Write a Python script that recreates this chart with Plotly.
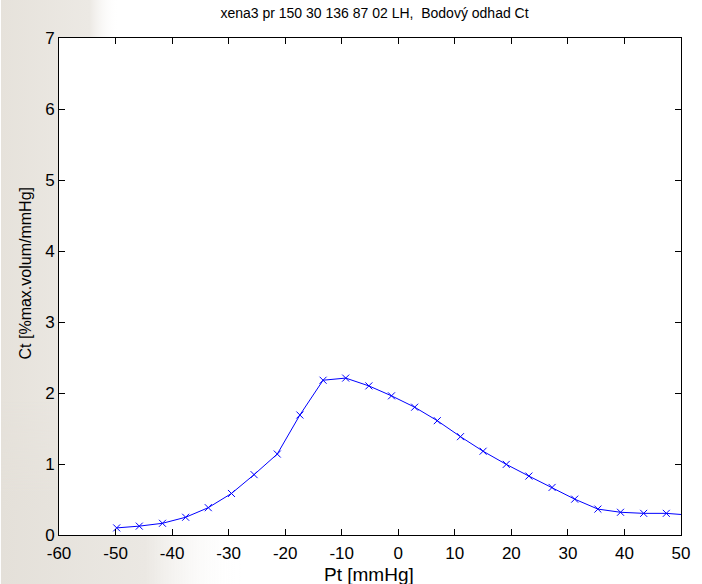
import base64
import plotly.graph_objects as go

# Data
pt = [-49.8, -45.8, -41.7, -37.6, -33.6, -29.5, -25.5, -21.4, -17.4, -13.3,
      -9.3, -5.2, -1.2, 2.9, 6.9, 11.0, 15.0, 19.1, 23.1, 27.2,
      31.2, 35.3, 39.3, 43.4, 47.4, 51.5]
ct = [0.10, 0.125, 0.165, 0.25, 0.385, 0.585, 0.85, 1.14, 1.69, 2.18,
      2.21, 2.10, 1.96, 1.80, 1.61, 1.385, 1.18, 0.995, 0.83, 0.67,
      0.505, 0.365, 0.32, 0.305, 0.305, 0.28]
x_ticks = [-60, -50, -40, -30, -20, -10, 0, 10, 20, 30, 40, 50]
y_ticks = [0, 1, 2, 3, 4, 5, 6, 7]

title_text = "xena3 pr 150 30 136 87 02 LH,  Bodový odhad Ct"
x_title = "Pt [mmHg]"
y_title = "Ct [%max.volum/mmHg]"

W, H = 702, 584
ML, MR, MT, MB = 59, 12, 38, 49
FONT = "Liberation Sans, Arial, sans-serif"

svg = f'''<svg xmlns="http://www.w3.org/2000/svg" width="{W}" height="{H}" viewBox="0 0 {W} {H}" preserveAspectRatio="none">
<defs>
<linearGradient id="g1" gradientUnits="userSpaceOnUse" x1="0" y1="0" x2="120" y2="0">
<stop offset="0" stop-color="#e6e2db"/><stop offset="0.75" stop-color="#ece9e4"/><stop offset="1" stop-color="#ffffff" stop-opacity="0"/>
</linearGradient>
<linearGradient id="g2" gradientUnits="userSpaceOnUse" x1="0" y1="0" x2="245" y2="0">
<stop offset="0" stop-color="#e4e0d9"/><stop offset="0.6" stop-color="#ebe8e3"/><stop offset="1" stop-color="#ffffff" stop-opacity="0"/>
</linearGradient>
<linearGradient id="v2" x1="0" y1="0" x2="0" y2="1">
<stop offset="0" stop-color="#fff" stop-opacity="0"/><stop offset="0.5" stop-color="#fff" stop-opacity="1"/>
</linearGradient>
<mask id="m2"><rect x="0" y="400" width="{W}" height="{H-400}" fill="url(#v2)"/></mask>
</defs>
<rect x="0" y="0" width="{W}" height="{H}" fill="#ffffff"/>
<rect x="0" y="0" width="{W}" height="{H}" fill="url(#g1)"/>
<rect x="0" y="400" width="{W}" height="{H-400}" fill="url(#g2)" mask="url(#m2)"/>
</svg>'''
bg_src = "data:image/svg+xml;base64," + base64.b64encode(svg.encode()).decode()

pw = W - ML - MR
ph = H - MT - MB

fig = go.Figure()
fig.add_trace(go.Scatter(
    x=pt, y=ct, mode="lines+markers",
    line=dict(color="#0000ff", width=1),
    marker=dict(symbol="x-thin", size=7, line=dict(color="#0000ff", width=1), color="#0000ff"),
    cliponaxis=True, showlegend=False,
))

axis_common = dict(
    showgrid=False, zeroline=False, showline=True, linecolor="black", linewidth=1,
    mirror="ticks", ticks="inside", ticklen=6, tickwidth=1, tickcolor="black",
    tickfont=dict(family=FONT, size=17, color="black"),
)
fig.update_xaxes(range=[-60, 50], tickvals=x_ticks, ticktext=[str(v) for v in x_ticks],
                 ticklabelstandoff=3, **axis_common)
fig.update_yaxes(range=[0, 7], tickvals=y_ticks, ticktext=[str(v) for v in y_ticks],
                 **axis_common)

fig.update_layout(
    width=W, height=H,
    margin=dict(l=ML, r=MR, t=MT, b=MB, pad=0),
    paper_bgcolor="white", plot_bgcolor="white",
    title=dict(text=title_text, x=(ML + pw / 2) / W, xanchor="center",
               y=1 - 13 / H, yanchor="middle", yref="container",
               font=dict(family=FONT, size=14, color="black")),
    images=[dict(source=bg_src, xref="paper", yref="paper",
                 x=-ML / pw, y=1 + MT / ph, sizex=W / pw, sizey=H / ph,
                 xanchor="left", yanchor="top", sizing="stretch", layer="below")],
    shapes=[dict(type="rect", xref="paper", yref="paper", x0=0, x1=1, y0=0, y1=1,
                 fillcolor="white", line=dict(width=0), layer="below")],
    annotations=[
        dict(text=x_title, xref="paper", yref="paper",
             x=(373 - ML) / pw, y=-(574 - (MT + ph)) / ph,
             xanchor="center", yanchor="middle", showarrow=False,
             font=dict(family=FONT, size=19, color="black")),
        dict(text=y_title, xref="paper", yref="paper",
             x=(25 - ML) / pw, y=1 - (273 - MT) / ph,
             xanchor="center", yanchor="middle", textangle=-90, showarrow=False,
             font=dict(family=FONT, size=16, color="black")),
    ],
)

fig.write_html("out.html")
